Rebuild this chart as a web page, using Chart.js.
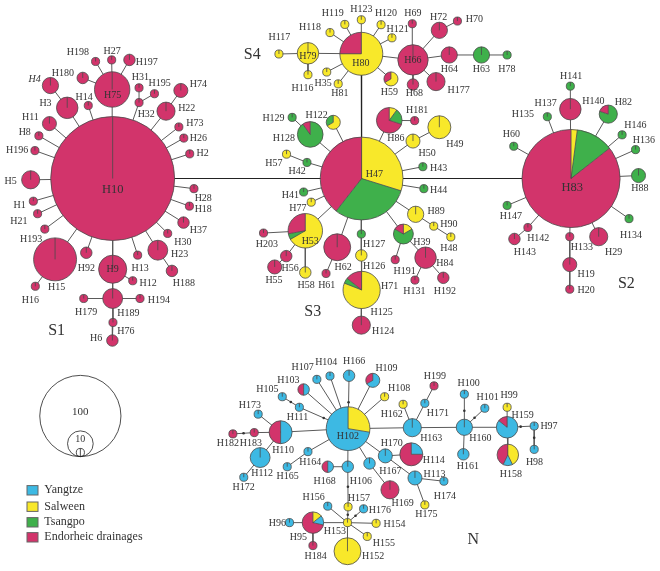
<!DOCTYPE html>
<html>
<head>
<meta charset="utf-8">
<script src="https://cdn.jsdelivr.net/npm/chart.js@4/dist/chart.umd.min.js"></script>
<style>
  html, body { margin: 0; padding: 0; background: #fff; }
  canvas { display: block; }
</style>
</head>
<body>
<canvas id="net" width="660" height="571"></canvas>
<script>
// Haplotype network: four drainages, node area ~ number of individuals.
const REGIONS = ["Yangtze", "Salween", "Tsangpo", "Endorheic drainages"];
const REGION_COLORS = ["#3db9e3", "#f8e82a", "#3fb04b", "#d2346b"];
const Y = 0, S = 1, T = 2, E = 3;

// [name, x, y, slices clockwise from 12 o'clock as [region, count]]
const S1_NODES = [
  ["H10", 110, 177, [[E, 233]]], ["H75", 109.5, 86.7, [[E, 19]]],
  ["H27", 109, 56.7, [[E, 1]]], ["H198", 92.7, 58.3, [[E, 1]]],
  ["H197", 127, 56.7, [[E, 2]]], ["H180", 79.7, 75, [[E, 2]]],
  ["H4", 47, 82.7, [[E, 4]]], ["H3", 64, 105.3, [[E, 7]]],
  ["H14", 85.3, 103, [[E, 1]]], ["H11", 46, 121.3, [[E, 3]]],
  ["H8", 35.3, 133.7, [[E, 1]]], ["H196", 31.3, 148.7, [[E, 1]]],
  ["H5", 27, 178.3, [[E, 5]]], ["H1", 29.7, 200, [[E, 1]]],
  ["H21", 34, 212.7, [[E, 1]]], ["H193", 41.3, 228.3, [[E, 1]]],
  ["H15", 51.7, 259, [[E, 28]]], ["H16", 31.7, 286.3, [[E, 1]]],
  ["H92", 83.3, 252.3, [[E, 2]]], ["H9", 110, 269, [[E, 12]]],
  ["H13", 135.3, 254.7, [[E, 1]]], ["H12", 130.3, 280.7, [[E, 1]]],
  ["H30", 165.7, 232.7, [[E, 1]]], ["H23", 155.7, 249.7, [[E, 6]]],
  ["H188", 170, 270.7, [[E, 2]]], ["H37", 181.7, 221.7, [[E, 2]]],
  ["H18", 187.7, 205, [[E, 1]]], ["H28", 192.3, 187.3, [[E, 1]]],
  ["H2", 188, 152, [[E, 1]]], ["H26", 182, 136, [[E, 1]]],
  ["H73", 177, 124.7, [[E, 1]]], ["H22", 164, 108.7, [[E, 5]]],
  ["H74", 179, 87.7, [[E, 3]]], ["H32", 136.7, 100, [[E, 1]]],
  ["H31", 136.7, 85, [[E, 1]]], ["H195", 152.3, 91, [[E, 1]]],
  ["H189", 110, 298.7, [[E, 6]]], ["H179", 80.7, 298.7, [[E, 1]]],
  ["H194", 137.7, 298.7, [[E, 1]]], ["H76", 110.3, 323, [[E, 1]]],
  ["H6", 109.7, 341.3, [[E, 2]]],
];
const S4_NODES = [
  ["H80", 361.7, 50.5, [[S, 21], [E, 7]]], ["H79", 307.7, 50, [[S, 7]]],
  ["H117", 278.3, 50.7, [[S, 1]]], ["H116", 307.7, 71.7, [[S, 1]]],
  ["H118", 330, 29, [[S, 1]]], ["H119", 345, 20.7, [[S, 1]]],
  ["H123", 361.7, 16, [[S, 1]]], ["H120", 381.7, 21, [[S, 1]]],
  ["H121", 392.7, 34.3, [[S, 1]]], ["H35", 326.7, 69, [[S, 1]]],
  ["H81", 338.3, 81, [[S, 1]]], ["H59", 391.7, 76, [[S, 2], [E, 1]]],
  ["H66", 414, 56.7, [[E, 14]]], ["H69", 413.3, 20, [[E, 1]]],
  ["H72", 440.7, 26.7, [[E, 4]]], ["H70", 459, 17.3, [[E, 1]]],
  ["H64", 450.7, 51.7, [[E, 4]]], ["H68", 414, 81.7, [[E, 2]]],
  ["H177", 437.3, 78.7, [[E, 5]]], ["H63", 483.3, 51.7, [[T, 4]]],
  ["H78", 509.3, 51.7, [[T, 1]]],
];
const S3_NODES = [
  ["H47", 362, 177, [[S, 31], [T, 32], [E, 41]]],
  ["H128", 310, 132.3, [[T, 9], [E, 1]]], ["H129", 291.7, 115, [[T, 1]]],
  ["H122", 333.3, 120, [[S, 2], [T, 1]]],
  ["H86", 390, 118, [[S, 1], [T, 2], [E, 7]]], ["H181", 415.7, 118.3, [[E, 1]]],
  ["H50", 414, 139, [[S, 3]]], ["H49", 440.7, 125, [[S, 8]]],
  ["H57", 286, 152.3, [[S, 1]]], ["H42", 306.7, 160.7, [[T, 1]]],
  ["H43", 424, 165, [[T, 1]]], ["H44", 425, 187.3, [[T, 1]]],
  ["H41", 303.3, 190.7, [[T, 1]]], ["H77", 311, 201, [[S, 1]]],
  ["H89", 416.7, 213.3, [[S, 4]]], ["H90", 435, 225.3, [[S, 1]]],
  ["H48", 452.3, 236.3, [[S, 1]]],
  ["H39", 404.3, 233.3, [[S, 1], [T, 4], [E, 1]]],
  ["H191", 396, 259.3, [[E, 1]]], ["H84", 426.7, 257.3, [[E, 7]]],
  ["H131", 416, 280, [[E, 1]]], ["H192", 444.7, 277.7, [[E, 2]]],
  ["H127", 361.7, 233.3, [[T, 1]]], ["H126", 361.7, 255, [[S, 2]]],
  ["H71", 362, 290, [[S, 17], [T, 1], [E, 3]]], ["H124", 361.7, 325.7, [[E, 5]]],
  ["H62", 337.3, 246.7, [[E, 11]]], ["H61", 326, 273.3, [[E, 1]]],
  ["H53", 305, 230, [[S, 12], [T, 1], [E, 5]]], ["H203", 262.7, 232.3, [[E, 1]]],
  ["H56", 285.7, 255.7, [[E, 2]]], ["H55", 274, 266.7, [[E, 3]]],
  ["H58", 305, 272.3, [[S, 2]]],
];
const S2_NODES = [
  ["H83", 574, 177, [[S, 3], [T, 18], [E, 125]]],
  ["H141", 573.3, 83.3, [[T, 1]]], ["H137", 573.3, 106.7, [[E, 7]]],
  ["H82", 611.7, 111.7, [[T, 4], [E, 1]]], ["H135", 550, 114.3, [[T, 1]]],
  ["H60", 516, 144.3, [[T, 1]]], ["H146", 625.7, 132.7, [[T, 1]]],
  ["H136", 639.3, 147.7, [[T, 1]]], ["H88", 642.3, 174, [[T, 3]]],
  ["H147", 509.3, 204.3, [[T, 1]]], ["H134", 632.7, 217.7, [[T, 1]]],
  ["H142", 530.3, 226.7, [[E, 1]]], ["H143", 516.7, 238.3, [[E, 2]]],
  ["H133", 572.7, 236, [[E, 1]]], ["H29", 602, 236, [[E, 5]]],
  ["H19", 572.7, 264.3, [[E, 3]]], ["H20", 572.7, 289.3, [[E, 1]]],
];
const N_NODES = [
  ["H102", 348.3, 430.7, [[S, 8], [Y, 21]]], ["H110", 280, 434.3, [[Y, 4], [E, 4]]],
  ["H173", 257.3, 416, [[Y, 1]]], ["H183", 253.3, 434.7, [[E, 1]]],
  ["H182", 231.7, 436, [[E, 1]]], ["H112", 259.3, 460, [[Y, 6]]],
  ["H172", 242.7, 480, [[Y, 1]]], ["H111", 299, 409, [[Y, 1]]],
  ["H105", 281.7, 398.3, [[Y, 1]]], ["H103", 303.3, 391, [[Y, 1], [E, 1]]],
  ["H107", 316.7, 380.7, [[Y, 1]]], ["H104", 330, 377.3, [[Y, 1]]],
  ["H166", 349.3, 377, [[Y, 2]]], ["H109", 373.3, 381.7, [[Y, 2], [E, 1]]],
  ["H108", 385.3, 398.3, [[S, 1]]], ["H162", 404, 406, [[S, 1]]],
  ["H199", 435.3, 387.3, [[E, 1]]], ["H171", 426, 405, [[Y, 1]]],
  ["H163", 413.3, 429.7, [[Y, 5]]], ["H160", 466, 429.3, [[Y, 4]]],
  ["H100", 466, 395.7, [[Y, 1]]], ["H101", 486.7, 410, [[Y, 1]]],
  ["H161", 465, 456.7, [[Y, 2]]], ["H159", 509.3, 429.3, [[Y, 6], [E, 1]]],
  ["H99", 509.3, 409, [[S, 1]]], ["H97", 536.7, 428, [[Y, 1]]],
  ["H98", 536.7, 451.7, [[Y, 1]]], ["H158", 510, 457.3, [[S, 3], [Y, 1], [E, 3]]],
  ["H170", 386, 458.3, [[Y, 3]]], ["H114", 412.3, 456.7, [[Y, 2], [E, 6]]],
  ["H167", 370, 466, [[Y, 2]]], ["H113", 416, 480.7, [[Y, 3]]],
  ["H174", 445.3, 484, [[Y, 1]]], ["H175", 426, 508, [[S, 1]]],
  ["H169", 390.7, 492.7, [[E, 5]]], ["H168", 327.7, 469.3, [[Y, 1], [E, 1]]],
  ["H106", 348, 469.3, [[Y, 2]]], ["H164", 307.7, 454, [[Y, 1]]],
  ["H165", 286.7, 469.3, [[Y, 1]]], ["H157", 348.3, 510, [[S, 1]]],
  ["H156", 327.7, 509.3, [[Y, 1]]], ["H176", 364, 512, [[Y, 1]]],
  ["H153", 347.7, 526, [[S, 1]]], ["H154", 376.7, 526.7, [[S, 1]]],
  ["H155", 367.7, 540, [[S, 1]]], ["H152", 347.7, 555, [[S, 11]]],
  ["H95", 312.7, 526, [[S, 1], [Y, 1], [E, 5]]], ["H96", 289, 526, [[Y, 1]]],
  ["H184", 312.7, 549.3, [[E, 1]]],
];

// links (one mutational path each)
const BACKBONE = [["H10", "H47"], ["H47", "H83"], ["H80", "H47"]];
const S1_LINKS = [
  ["H10", "H75"], ["H75", "H27"], ["H75", "H198"], ["H75", "H197"], ["H75", "H180"],
  ["H10", "H3"], ["H3", "H4"], ["H10", "H14"], ["H10", "H11"], ["H10", "H8"],
  ["H10", "H196"], ["H10", "H5"], ["H10", "H1"], ["H10", "H21"], ["H10", "H193"],
  ["H10", "H15"], ["H15", "H16"], ["H10", "H92"], ["H10", "H9"], ["H10", "H13"],
  ["H9", "H12"], ["H10", "H30"], ["H10", "H23"], ["H23", "H188"], ["H10", "H37"],
  ["H10", "H18"], ["H10", "H28"], ["H10", "H2"], ["H10", "H26"], ["H10", "H73"],
  ["H10", "H22"], ["H22", "H74"], ["H10", "H32"], ["H32", "H31"], ["H32", "H195"],
  ["H9", "H189"], ["H189", "H179"], ["H189", "H194"], ["H189", "H76"], ["H76", "H6"],
];
const S4_LINKS = [
  ["H80", "H79"], ["H79", "H117"], ["H79", "H116"], ["H80", "H118"], ["H80", "H119"],
  ["H80", "H123"], ["H80", "H120"], ["H80", "H121"], ["H80", "H35"], ["H80", "H81"],
  ["H80", "H59"], ["H80", "H66"], ["H66", "H69"], ["H66", "H72"], ["H72", "H70"],
  ["H66", "H64"], ["H64", "H63"], ["H63", "H78"], ["H66", "H68"], ["H66", "H177"],
];
const S3_LINKS = [
  ["H47", "H128"], ["H128", "H129"], ["H47", "H122"], ["H47", "H86"], ["H86", "H181"],
  ["H47", "H50"], ["H50", "H49"], ["H47", "H42"], ["H42", "H57"], ["H47", "H43"],
  ["H47", "H44"], ["H47", "H41"], ["H47", "H77"], ["H47", "H89"], ["H89", "H90"],
  ["H90", "H48"], ["H47", "H39"], ["H39", "H191"], ["H39", "H84"], ["H84", "H131"],
  ["H84", "H192"], ["H47", "H127"], ["H127", "H126"], ["H126", "H71"], ["H71", "H124"],
  ["H47", "H62"], ["H62", "H61"], ["H47", "H53"], ["H53", "H203"], ["H53", "H56"],
  ["H56", "H55"], ["H53", "H58"],
];
const S2_LINKS = [
  ["H83", "H137"], ["H137", "H141"], ["H83", "H82"], ["H83", "H135"], ["H83", "H60"],
  ["H83", "H146"], ["H83", "H136"], ["H83", "H88"], ["H83", "H147"], ["H83", "H142"],
  ["H142", "H143"], ["H83", "H133"], ["H133", "H19"], ["H19", "H20"], ["H83", "H29"],
  ["H83", "H134"],
];
const N_LINKS = [
  ["H102", "H110"], ["H110", "H173"], ["H110", "H183"], ["H183", "H182"], ["H110", "H112"],
  ["H112", "H172"], ["H102", "H111"], ["H111", "H105"], ["H102", "H103"], ["H102", "H107"],
  ["H102", "H104"], ["H102", "H166"], ["H102", "H109"], ["H102", "H108"], ["H102", "H163"],
  ["H163", "H162"], ["H163", "H171"], ["H171", "H199"], ["H163", "H160"], ["H160", "H100"],
  ["H160", "H101"], ["H160", "H161"], ["H160", "H159"], ["H159", "H99"], ["H159", "H97"],
  ["H97", "H98"], ["H159", "H158"], ["H102", "H170"], ["H170", "H114"], ["H170", "H113"],
  ["H113", "H174"], ["H113", "H175"], ["H102", "H167"], ["H167", "H169"], ["H102", "H164"],
  ["H164", "H165"], ["H102", "H106"], ["H106", "H168"], ["H106", "H157"], ["H157", "H153"],
  ["H153", "H156"], ["H153", "H176"], ["H153", "H154"], ["H153", "H155"], ["H153", "H152"],
  ["H153", "H95"], ["H95", "H96"], ["H95", "H184"],
];
// links carrying an extra (unsampled) mutational step
const MUTATION_LINKS = [
  ["H111", "H105"], ["H102", "H111"], ["H183", "H182"], ["H160", "H100"], ["H160", "H101"],
  ["H159", "H97"], ["H97", "H98"], ["H106", "H157"], ["H153", "H176"], ["H102", "H166"],
  ["H157", "H153"],
];

// label text + where it sits
const S1_LABELS = [
  ["H10", 110, 188], ["H75", 110, 93], ["H198", 74.7, 49.3], ["H27", 109.5, 47.7],
  ["H197", 144.5, 59.3], ["H180", 59.7, 70.3], ["H4", 31, 76], ["H3", 42, 101],
  ["H14", 81, 95], ["H11", 26.7, 115], ["H8", 21, 130.7], ["H196", 13.3, 148.3],
  ["H5", 6.7, 180], ["H1", 15.8, 204], ["H21", 15, 220.7], ["H31", 138, 74],
  ["H195", 157.5, 80.7], ["H74", 196.7, 81.7], ["H32", 144, 112.3], ["H22", 185, 106],
  ["H73", 193.3, 120.7], ["H26", 196.7, 136.7], ["H2", 201, 151], ["H28", 201.7, 197.3],
  ["H18", 201.7, 208.3], ["H37", 196.7, 230], ["H193", 27.5, 238.3], ["H92", 83.3, 268.3],
  ["H9", 110, 269], ["H13", 137.7, 267.7], ["H30", 181, 241.7], ["H23", 177.7, 253.7],
  ["H188", 182, 283.3], ["H12", 146, 283.3], ["H15", 53.3, 287.3], ["H16", 26.7, 300.3],
  ["H179", 83.2, 312.3], ["H189", 125.8, 313.7], ["H194", 156.7, 300.3],
  ["H76", 123.3, 331.7], ["H6", 93.3, 339.3],
];
const S4_LABELS = [
  ["H117", 278.8, 34.3], ["H79", 307.7, 53.3], ["H116", 302.2, 85.7], ["H118", 309.8, 23.3],
  ["H119", 332.8, 10], ["H123", 361.7, 5.5], ["H120", 386.7, 10], ["H121", 398.5, 26],
  ["H35", 323, 80], ["H81", 340, 91], ["H80", 361.3, 60], ["H59", 390, 90],
  ["H66", 414, 57.3], ["H69", 414, 10], ["H72", 440, 13.3], ["H70", 476.2, 15.7],
  ["H64", 450.8, 66], ["H68", 415.3, 90.7], ["H177", 460.3, 87.7], ["H63", 483.3, 66.7],
  ["H78", 509, 66.7],
];
const S3_LABELS = [
  ["H129", 272.8, 116], ["H122", 316.5, 112.7], ["H181", 418.2, 108.3], ["H128", 283.3, 136.7],
  ["H86", 396.7, 136.7], ["H50", 428.3, 151], ["H49", 456.3, 142.7], ["H57", 273.2, 161.7],
  ["H42", 296.7, 170], ["H43", 440, 166.7], ["H44", 440, 189], ["H41", 290, 194],
  ["H77", 297.5, 207.3], ["H47", 375, 173.3], ["H89", 437.5, 210], ["H90", 450.3, 223.3],
  ["H48", 450.3, 248.3], ["H39", 423, 241.7], ["H84", 446.3, 263.3], ["H191", 405.5, 270.7],
  ["H131", 415.5, 291], ["H192", 446.2, 291.7], ["H127", 374.7, 244], ["H126", 374.7, 265.7],
  ["H71", 390.3, 286.7], ["H125", 382.2, 312.3], ["H124", 383.7, 331.7], ["H62", 343.3, 266.7],
  ["H61", 326.7, 285.7], ["H53", 310, 240.7], ["H203", 266.2, 243.3], ["H56", 289.7, 268.3],
  ["H55", 273.3, 280.7], ["H58", 305.8, 285.7],
];
const S2_LABELS = [
  ["H141", 574, 73], ["H137", 548.3, 100.7], ["H140", 596.7, 98.3], ["H82", 627, 100],
  ["H135", 525.3, 112.3], ["H146", 639.2, 123.3], ["H60", 513.7, 132.7], ["H136", 647.8, 138.3],
  ["H88", 643.7, 186.7], ["H147", 513, 215], ["H83", 575.3, 186], ["H134", 634.7, 234.3],
  ["H142", 540.8, 237.3], ["H143", 527.2, 251.7], ["H133", 585, 247.3], ["H29", 617, 251.7],
  ["H19", 589.2, 274.3], ["H20", 589.2, 290.7],
];
const N_LABELS = [
  ["H107", 302.2, 368.3], ["H104", 326.2, 363.3], ["H166", 354.5, 362.7], ["H109", 387.2, 370],
  ["H103", 287.8, 381.7], ["H105", 266.7, 391], ["H108", 400, 390], ["H199", 436.2, 377.3],
  ["H100", 470.3, 384.3], ["H101", 489.5, 398.7], ["H99", 511.3, 397.3], ["H159", 525, 417.3],
  ["H97", 551.7, 428.3], ["H173", 248.8, 406.7], ["H111", 297, 419.3], ["H162", 392.5, 416],
  ["H171", 439.2, 415], ["H182", 226.7, 446], ["H183", 250, 446], ["H110", 282.5, 452.7],
  ["H102", 348, 438.3], ["H163", 432.5, 441], ["H160", 482.2, 440.7], ["H170", 392.5, 446],
  ["H114", 435, 462.7], ["H161", 469.5, 469.3], ["H98", 537, 465], ["H158", 513, 477.3],
  ["H112", 261.3, 475.7], ["H172", 242.5, 490.7], ["H165", 287.2, 479.3], ["H164", 310, 465.3],
  ["H168", 324.5, 483.7], ["H106", 361.2, 483.7], ["H167", 391.2, 474], ["H113", 435.8, 476.7],
  ["H174", 446.3, 499], ["H175", 427.5, 517.7], ["H169", 403.5, 506], ["H156", 313.5, 500],
  ["H157", 359.2, 501.7], ["H176", 380.5, 513.3], ["H96", 276.8, 526.7], ["H153", 335, 535],
  ["H154", 395.3, 527.3], ["H95", 298, 540.7], ["H155", 384.5, 547.3], ["H184", 315.5, 560.7],
  ["H152", 373.7, 560.7],
];
const GROUP_LABELS = [["S1", 53.3, 331], ["S4", 251.3, 51.7], ["S3", 312.5, 312.3],
  ["S2", 630, 283.3], ["N", 475, 543.3]];

// circle-size key: counts, sitting on a common base point
const SIZE_KEY = [100, 10, 1];
const SIZE_KEY_BASE = [77.3, 459];

const ALL_NODES = [...S1_NODES, ...S4_NODES, ...S3_NODES, ...S2_NODES, ...N_NODES];
const ALL_LINKS = [...S1_LINKS, ...S4_LINKS, ...S3_LINKS, ...S2_LINKS, ...N_LINKS];
const ALL_LABELS = [...S1_LABELS, ...S4_LABELS, ...S3_LABELS, ...S2_LABELS, ...N_LABELS];

const byName = {};
ALL_NODES.forEach((n) => { byName[n[0]] = { x: n[1], y: n[2] }; });

function linkPoints(list) {
  const pts = [];
  list.forEach(([a, b]) => {
    const p = byName[a], q = byName[b];
    if (!p || !q) return;
    pts.push({ x: p.x, y: p.y }, { x: q.x, y: q.y }, { x: q.x, y: null });
  });
  return pts;
}

const mutationPoints = MUTATION_LINKS.map(([a, b]) => ({
  x: (byName[a].x + byName[b].x) / 2, y: (byName[a].y + byName[b].y) / 2,
}));

const nodePoints = ALL_NODES.map((n) => ({ x: n[1], y: n[2], name: n[0], slices: n[3] }));

const radiusFor = (count) => 4.06 * Math.sqrt(count);
const SERIF = '"Liberation Serif", "DejaVu Serif", serif';

function drawPie(ctx, x, y, slices) {
  const total = slices.reduce((s, d) => s + d[1], 0);
  const r = radiusFor(total);
  let a = -Math.PI / 2;
  const starts = [];
  slices.forEach(([reg, cnt]) => {
    const a2 = a + (cnt / total) * Math.PI * 2;
    ctx.beginPath();
    ctx.moveTo(x, y);
    ctx.arc(x, y, r, a, a2);
    ctx.closePath();
    ctx.fillStyle = REGION_COLORS[reg];
    ctx.fill();
    starts.push(a);
    a = a2;
  });
  ctx.strokeStyle = "#4a4a4a";
  ctx.lineWidth = 0.8;
  ctx.beginPath();
  ctx.arc(x, y, r, 0, Math.PI * 2);
  ctx.stroke();
  starts.forEach((s) => {
    ctx.beginPath();
    ctx.moveTo(x, y);
    ctx.lineTo(x + r * Math.cos(s), y + r * Math.sin(s));
    ctx.stroke();
  });
}

const networkPlugin = {
  id: "network",
  afterDatasetsDraw(chart) {
    const ctx = chart.ctx;
    const xs = chart.scales.x, ys = chart.scales.y;
    const px = (v) => xs.getPixelForValue(v);
    const py = (v) => ys.getPixelForValue(v);
    ctx.save();

    // pies
    const idx = chart.data.datasets.findIndex((d) => d.label === "haplotypes");
    const meta = chart.getDatasetMeta(idx);
    meta.data.forEach((el, i) => {
      drawPie(ctx, el.x, el.y, chart.data.datasets[idx].data[i].slices);
    });

    // haplotype labels
    ctx.fillStyle = "#333";
    ctx.textAlign = "center";
    ctx.textBaseline = "middle";
    ALL_LABELS.forEach(([t, x, y]) => {
      const big = t === "H10" || t === "H83";
      ctx.font = (t === "H4" ? "italic " : "") + (big ? "12.5px " : "10px ") + SERIF;
      ctx.fillText(t, px(x), py(y));
    });
    ctx.font = "16px " + SERIF;
    GROUP_LABELS.forEach(([t, x, y]) => ctx.fillText(t, px(x), py(y)));

    // size key
    const bx = px(SIZE_KEY_BASE[0]), by = py(SIZE_KEY_BASE[1]);
    ctx.strokeStyle = "#222";
    ctx.lineWidth = 0.8;
    SIZE_KEY.forEach((n) => {
      const r = radiusFor(n);
      ctx.beginPath();
      ctx.arc(bx, by - r, r, 0, Math.PI * 2);
      ctx.stroke();
      if (n >= 10) {
        ctx.font = (n >= 100 ? "11px " : "10px ") + SERIF;
        ctx.fillText(String(n), bx, by - r - (n >= 100 ? 4 : 4));
      } else {
        ctx.beginPath();
        ctx.moveTo(bx, by - 2 * r);
        ctx.lineTo(bx, by);
        ctx.stroke();
      }
    });

    // colour legend
    ctx.textAlign = "left";
    ctx.font = "12px " + SERIF;
    const rowY = [490.3, 506.7, 522.3, 537.3];
    REGIONS.forEach((name, i) => {
      ctx.fillStyle = REGION_COLORS[i];
      ctx.fillRect(27, rowY[i] - 4.7, 11, 9.4);
      ctx.strokeStyle = "#666";
      ctx.lineWidth = 1;
      ctx.strokeRect(27, rowY[i] - 4.7, 11, 9.4);
      ctx.fillStyle = "#333";
      ctx.fillText(name, 44.3, rowY[i]);
    });
    ctx.restore();
  },
};

new Chart(document.getElementById("net"), {
  type: "scatter",
  data: {
    datasets: [
      { label: "links", data: linkPoints(ALL_LINKS), showLine: true, spanGaps: false,
        borderColor: "#5a5a5a", borderWidth: 1, pointRadius: 0, order: 3 },
      { label: "backbone", data: linkPoints(BACKBONE), showLine: true, spanGaps: false,
        borderColor: "#222", borderWidth: 1.2, pointRadius: 0, order: 2 },
      { label: "mutations", data: mutationPoints, pointRadius: 1.3,
        backgroundColor: "#333", borderWidth: 0, order: 1 },
      { label: "haplotypes", data: nodePoints, pointRadius: 0, order: 0 },
    ],
  },
  options: {
    responsive: false,
    animation: false,
    devicePixelRatio: 1,
    events: [],
    layout: { padding: 0 },
    scales: {
      x: { type: "linear", min: 0, max: 660, display: false },
      y: { type: "linear", min: 0, max: 571, reverse: true, display: false },
    },
    plugins: { legend: { display: false }, tooltip: { enabled: false } },
  },
  plugins: [networkPlugin],
});
</script>
</body>
</html>
